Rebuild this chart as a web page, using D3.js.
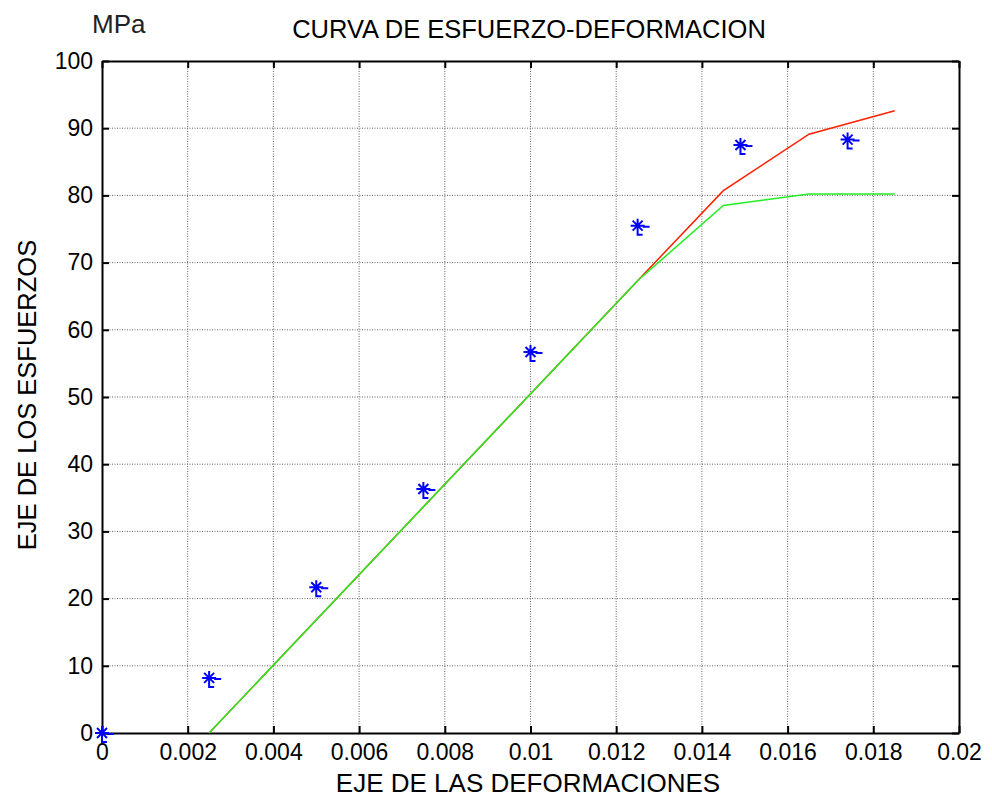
<!DOCTYPE html>
<html><head><meta charset="utf-8">
<script src="https://cdn.jsdelivr.net/npm/d3@7"></script>
<style>body{margin:0;background:#fff}svg{display:block}text{font-family:"Liberation Sans",Arial,sans-serif}</style>
</head><body><svg id="c" width="992" height="803"></svg>
<script>
const xTicks = [0,0.002,0.004,0.006,0.008,0.01,0.012,0.014,0.016,0.018,0.02];
const yTicks = [0,10,20,30,40,50,60,70,80,90,100];
const pointX = [0,0.0025,0.005,0.0075,0.01,0.0125,0.0149,0.0174];
const pointY = [0,8.2,21.7,36.3,56.7,75.5,87.5,88.3];
const redX = [0.0025,0.0125,0.0145,0.0165,0.0185];
const redY = [0,67.3,80.7,89.1,92.6];
const greenX = [0.0025,0.0125,0.0145,0.0165,0.0185];
const greenY = [0,67.3,78.5,80.2,80.2];

const svg = d3.select("#c");
const L=102,R=959,T=61,B=733;
const x = d3.scaleLinear().domain([0,0.02]).range([L,R]);
const y = d3.scaleLinear().domain([0,100]).range([B,T]);

// grid
const g = svg.append("g");
g.selectAll("line.gx").data(xTicks.slice(1,-1)).join("line")
 .attr("x1",d=>x(d)).attr("x2",d=>x(d)).attr("y1",T).attr("y2",B)
 .attr("stroke","#666").attr("stroke-width",1).attr("stroke-dasharray","1,1.5");
g.selectAll("line.gy").data(yTicks.slice(1,-1)).join("line")
 .attr("y1",d=>y(d)).attr("y2",d=>y(d)).attr("x1",L).attr("x2",R)
 .attr("stroke","#666").attr("stroke-width",1).attr("stroke-dasharray","1,1.5");

// axes
const fmt = d=> d===0?"0":String(+d.toFixed(3));
const ax = svg.append("g").attr("transform",`translate(0,${B})`)
 .call(d3.axisBottom(x).tickValues(xTicks).tickFormat(fmt).tickSizeInner(-7).tickSizeOuter(0).tickPadding(11));
const axT = svg.append("g").attr("transform",`translate(0,${T})`)
 .call(d3.axisTop(x).tickValues(xTicks).tickFormat("").tickSizeInner(-7).tickSizeOuter(0));
const ay = svg.append("g").attr("transform",`translate(${L},0)`)
 .call(d3.axisLeft(y).tickValues(yTicks).tickFormat(d3.format("d")).tickSizeInner(-7).tickSizeOuter(0).tickPadding(9));
const ayR = svg.append("g").attr("transform",`translate(${R},0)`)
 .call(d3.axisRight(y).tickValues(yTicks).tickFormat("").tickSizeInner(-7).tickSizeOuter(0));
[ax,axT,ay,ayR].forEach(a=>{
  a.selectAll("path").attr("stroke","#000").attr("stroke-width",2);
  a.selectAll("line").attr("stroke","#000").attr("stroke-width",2);
  a.selectAll("text").attr("font-size",23).attr("fill","#000").attr("font-family","'Liberation Sans',Arial,sans-serif");
});

// lines
const line = d3.line().x(d=>x(d[0])).y(d=>y(d[1]));
svg.append("path").datum(redX.map((v,i)=>[v,redY[i]])).attr("d",line)
 .attr("fill","none").attr("stroke","#ff2000").attr("stroke-width",1.5);
svg.append("path").datum(greenX.map((v,i)=>[v,greenY[i]])).attr("d",line)
 .attr("fill","none").attr("stroke","#22ee22").attr("stroke-width",1.5);

// markers
const pts = svg.append("g").attr("stroke","#0000ff").attr("stroke-width",2).attr("fill","none");
pointX.forEach((v,i)=>{
  const cx=x(v), cy=y(pointY[i]);
  const s=7, d=5;
  pts.append("path").attr("d",
    `M${cx-s},${cy}H${cx+s}M${cx},${cy-s}V${cy+s}M${cx-d},${cy-d}L${cx+d},${cy+d}M${cx-d},${cy+d}L${cx+d},${cy-d}`+
    `M${cx+5},${cy+1}H${cx+12}M${cx},${cy+4}V${cy+9}H${cx+5}`);
});

// texts
svg.append("text").attr("x",529).attr("y",38).attr("text-anchor","middle").attr("font-size",25.5).text("CURVA DE ESFUERZO-DEFORMACION");
svg.append("text").attr("x",92).attr("y",33).attr("font-size",26).attr("fill","#222").text("MPa");
svg.append("text").attr("x",528).attr("y",792).attr("text-anchor","middle").attr("font-size",26).text("EJE DE LAS DEFORMACIONES");
svg.append("text").attr("transform","translate(36,395) rotate(-90)").attr("text-anchor","middle").attr("font-size",25.5).text("EJE DE LOS ESFUERZOS");
</script></body></html>
